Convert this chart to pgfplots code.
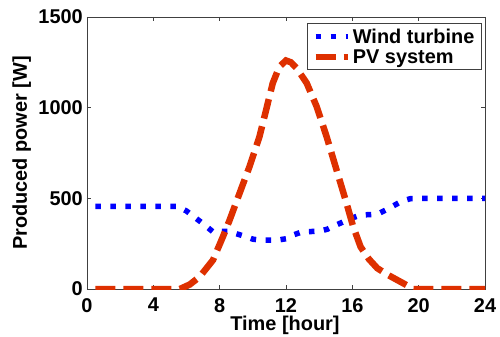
\documentclass[border=0pt]{standalone}
\usepackage{pgfplots}
\pgfplotsset{compat=1.18}
\usepackage{fontspec}
\setmainfont{Liberation Sans}
\definecolor{pvred}{RGB}{222,48,0}
\begin{document}
\begin{tikzpicture}
\useasboundingbox (-87bp,-48bp) rectangle (413bp,289bp);
\begin{axis}[
  at={(0,0)}, anchor=south west,
  scale only axis, width=398bp, height=272bp,
  xmin=0, xmax=24, ymin=0, ymax=1500,
  xtick={0,4,...,24}, ytick={0,500,1000,1500},
  tick align=inside, major tick length=4bp,
  axis line style={black!75, line width=0.6bp},
  every tick/.style={black!75, line width=0.6bp},
  font=\fontsize{20}{24}\selectfont\bfseries,
  /pgf/number format/assume math mode=true,
  /pgf/number format/1000 sep={},
  ticklabel style={font=\fontsize{20}{24}\selectfont\bfseries},
  xticklabel style={inner sep=0bp, anchor=north, yshift=-9bp},
  yticklabel style={inner sep=0bp, anchor=east, xshift=-4bp},
  xlabel={Time [hour]}, ylabel={Produced power [W]},
  xlabel style={at={(axis description cs:0.4975,-0.1325)}, anchor=center, inner sep=0bp},
  ylabel style={at={(axis description cs:-0.1643,0.5)}, anchor=center, inner sep=0bp},
  legend style={at={(1,1)}, anchor=north east, xshift=-3.3bp, yshift=-6.3bp,
    draw=black!75, line width=0.6bp, inner xsep=5bp, inner ysep=3bp, row sep=1bp,
    font=\fontsize{20}{24}\selectfont\bfseries},
  legend cell align=left,
  legend image code/.code={\draw[#1] (0bp,0bp) -- (32bp,0bp);},
]
\addplot[blue, line width=5.5bp, line cap=butt, dash pattern=on 5.5bp off 9.5bp] coordinates {
(0.5,455)(1,455)(2,455)(3,455)(4,455)(5,455)(5.5,455)(6,430)(6.5,395)(7,360)(7.6,315)(8,318)(8.6,318)(9,305)(9.6,288)(10,275)(10.4,270)(11,270)(11.5,270)(12,277)(12.5,300)(13,316)(14,318)(14.5,330)(15,352)(15.5,372)(16,392)(16.5,408)(17,410)(17.5,412)(18,435)(18.5,460)(19,485)(19.5,498)(20,500)(21,500)(22,500)(23,500)(24,500)
};
\addlegendentry{Wind turbine}
\addplot[pvred, line width=6.5bp, line cap=butt, dash pattern=on 20bp off 8bp] coordinates {
(0.5,0)(5.6,0)(6.2,25)(6.8,68)(7.6,160)(8.2,289)(8.6,380)(9.2,528)(9.8,675)(10.4,840)(10.8,987)(11.2,1135)(11.6,1226)(12,1260)(12.3,1250)(12.65,1217)(13.25,1135)(13.85,1006)(14.45,840)(15.05,656)(15.65,473)(16.05,344)(16.5,232)(17,165)(17.5,115)(18.1,80)(18.7,50)(19.2,25)(19.7,0)(24,0)
};
\addlegendentry{PV system}
\end{axis}
\end{tikzpicture}
\end{document}
